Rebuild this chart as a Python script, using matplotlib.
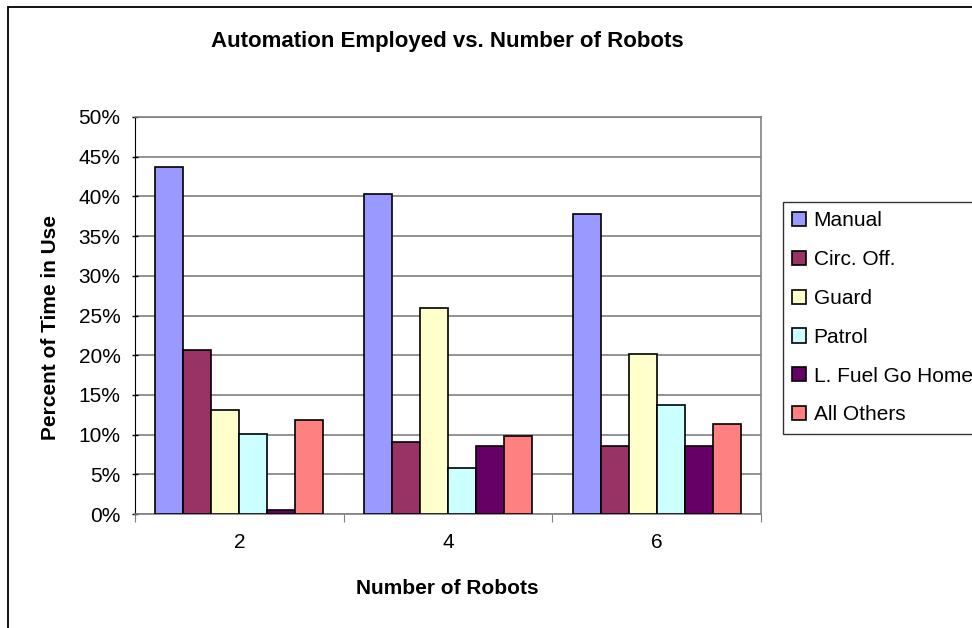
import numpy as np
import matplotlib
matplotlib.use("Agg")
import matplotlib.pyplot as plt
from matplotlib.patches import Rectangle

plt.rcParams['font.family'] = ['Liberation Sans', 'DejaVu Sans']

# Data
robots = ['2', '4', '6']
series = ['Manual', 'Circ. Off.', 'Guard', 'Patrol', 'L. Fuel Go Home', 'All Others']
manual = [43.7, 40.3, 37.8]
circ_off = [20.7, 9.1, 8.6]
guard = [13.1, 26.0, 20.1]
patrol = [10.1, 5.8, 13.7]
fuel_home = [0.5, 8.6, 8.6]
others = [11.9, 9.8, 11.3]
colors = ['#9999FF', '#993366', '#FFFFCC', '#CCFFFF', '#660066', '#FF8080']

values = [manual, circ_off, guard, patrol, fuel_home, others]

W, H = 972, 628
fig = plt.figure(figsize=(W / 100, H / 100), dpi=100)
fig.patch.set_facecolor('white')

# chart area border (runs off the right and bottom edges like the original)
fig.patches.append(Rectangle((8 / W, -0.05), 1.1, 1 - 7 / H + 0.05,
                             transform=fig.transFigure, fill=False,
                             edgecolor='black', linewidth=1.3))

ax = fig.add_axes([135 / W, (H - 514) / H, 626 / W, 397 / H])

x = np.arange(len(robots))
w = 0.134
for i, (name, vals, c) in enumerate(zip(series, values, colors)):
    ax.bar(x + (i - 2.5) * w, vals, width=w, color=c, edgecolor='black',
           linewidth=1.2, label=name, zorder=3)

ax.set_xlim(-0.5, 2.5)
ax.set_ylim(0, 50)
ax.set_yticks(np.arange(0, 51, 5))
ax.set_yticklabels([f'{v}%' for v in range(0, 51, 5)], fontsize=15)
ax.yaxis.grid(True, color='#808080', linewidth=1.2, zorder=0)

ax.set_xticks([-0.5, 0.5, 1.5, 2.5])
ax.set_xticklabels([])
ax.set_xticks(x, minor=True)
ax.set_xticklabels(robots, minor=True, fontsize=15)
ax.tick_params(axis='x', which='minor', length=0, pad=14)
ax.tick_params(axis='x', which='major', length=6, direction='out', color='#808080')
ax.tick_params(axis='y', length=5, direction='inout', width=1, pad=8)

for s in ['top', 'right']:
    ax.spines[s].set_color('#808080')
    ax.spines[s].set_linewidth(1.2)
ax.spines['left'].set_color('black')
ax.spines['bottom'].set_color('#808080')
ax.spines['bottom'].set_linewidth(1.2)

ax.set_ylabel('Percent of Time in Use', fontsize=15, fontweight='bold')
ax.set_xlabel('Number of Robots', fontsize=15, fontweight='bold')
ax.yaxis.set_label_coords(50 / W, 1 - 327 / H, transform=fig.transFigure)
ax.xaxis.set_label_coords(447 / W, 1 - 588 / H, transform=fig.transFigure)
ax.yaxis.label.set_va('center')
ax.xaxis.label.set_va('center')

fig.text(447 / W, 1 - 42 / H, 'Automation Employed vs. Number of Robots',
         ha='center', va='center', fontsize=16, fontweight='bold')

leg = ax.legend(loc='upper left', bbox_to_anchor=(783 / W, 1 - 202 / H),
                bbox_transform=fig.transFigure, fontsize=15, frameon=True,
                fancybox=False, edgecolor='black', handlelength=0.67,
                handleheight=0.67, handletextpad=0.35, labelspacing=0.95,
                borderpad=0.45, borderaxespad=0)
leg.get_frame().set_linewidth(1.0)

fig.savefig('out.png', dpi=100)
